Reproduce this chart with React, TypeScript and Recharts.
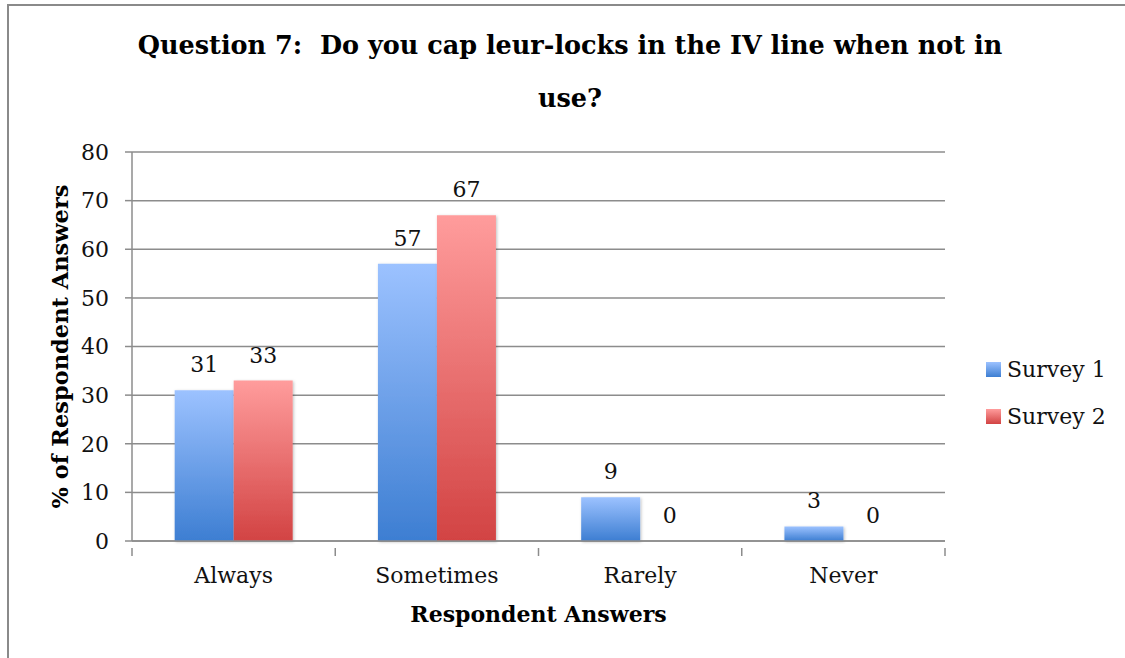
import React from "react";
import {
  BarChart,
  Bar,
  XAxis,
  YAxis,
  CartesianGrid,
  LabelList,
} from "recharts";

const categories = ["Always", "Sometimes", "Rarely", "Never"];
const survey1 = [31, 57, 9, 3];
const survey2 = [33, 67, 0, 0];
const seriesNames = ["Survey 1", "Survey 2"];
const yTicks = [0, 10, 20, 30, 40, 50, 60, 70, 80];
const titleLines = [
  "Question 7:  Do you cap leur-locks in the IV line when not in",
  "use?",
];

const data = categories.map((name, i) => ({
  name,
  s1: survey1[i],
  s2: survey2[i],
}));

const FONT = "'DejaVu Serif', serif";
const GRID = "#8c8c8c";
const W = 1125;
const H = 658;
const margin = { top: 152, right: 180, bottom: 0, left: 0 };
const yAxisWidth = 132;
const plotWidth = W - margin.left - margin.right - yAxisWidth;
const halfBand = plotWidth / categories.length / 2;

function CategoryTick(props: any) {
  const { x, y, payload, index } = props;
  const half = payload?.offset || halfBand;
  return (
    <g>
      <line x1={x - half} x2={x - half} y1={y - 1} y2={y + 7} stroke={GRID} strokeWidth={1.5} />
      {index === categories.length - 1 && (
        <line x1={x + half} x2={x + half} y1={y - 1} y2={y + 7} stroke={GRID} strokeWidth={1.5} />
      )}
      <text x={x} y={y + 34} textAnchor="middle" fontFamily={FONT} fontSize={22} fill="#111">
        {payload.value}
      </text>
    </g>
  );
}

// value labels drawn by hand so that zero-height bars still get their "0"
function ValueLabel(props: any) {
  const { x, y, width, value } = props;
  if (value == null) return null;
  return (
    <text
      x={Number(x) + Number(width) / 2}
      y={Number(y) - 18}
      textAnchor="middle"
      fontFamily={FONT}
      fontSize={22}
      fill="#111"
    >
      {value}
    </text>
  );
}

function LegendBox() {
  const fills = [
    "linear-gradient(#9cc2ff, #3d7ed2)",
    "linear-gradient(#ff9c9c, #d24343)",
  ];
  return (
    <div style={{ fontFamily: FONT, fontSize: 22, color: "#111" }}>
      {seriesNames.map((n, i) => (
        <div key={n} style={{ display: "flex", alignItems: "center", height: 47 }}>
          <span
            style={{
              display: "inline-block",
              width: 15,
              height: 15,
              background: fills[i],
              marginRight: 6,
            }}
          />
          <span>{n}</span>
        </div>
      ))}
    </div>
  );
}

export default function App() {
  return (
    <div
      style={{
        position: "fixed",
        left: 0,
        top: 0,
        width: W,
        height: H,
        overflow: "hidden",
        background: "#fff",
        fontFamily: FONT,
      }}
    >
      <div
        style={{
          position: "absolute",
          left: 7,
          top: 4,
          width: W + 20,
          height: H + 20,
          border: "2px solid #8a8a8a",
          boxSizing: "border-box",
        }}
      />
      {titleLines.map((t, i) => (
        <div
          key={i}
          style={{
            position: "absolute",
            left: 0,
            width: 1140,
            top: 25 + i * 53,
            textAlign: "center",
            fontWeight: "bold",
            fontSize: 25.5,
            lineHeight: "40px",
            whiteSpace: "pre",
            color: "#000",
          }}
        >
          {t}
        </div>
      ))}
      <div style={{ position: "absolute", left: 0, top: 0 }}>
        <BarChart
          width={W}
          height={H}
          data={data}
          margin={margin}
          barCategoryGap="21%"
          barGap={0}
        >
          <defs>
            <linearGradient id="gBlue" x1="0" y1="0" x2="0" y2="1">
              <stop offset="0%" stopColor="#9cc2ff" />
              <stop offset="100%" stopColor="#3d7ed2" />
            </linearGradient>
            <linearGradient id="gRed" x1="0" y1="0" x2="0" y2="1">
              <stop offset="0%" stopColor="#ff9c9c" />
              <stop offset="100%" stopColor="#d24343" />
            </linearGradient>
            <filter id="shadow" x="-10%" y="-10%" width="130%" height="130%">
              <feDropShadow dx="1" dy="1" stdDeviation="1.5" floodColor="#000" floodOpacity="0.25" />
            </filter>
          </defs>
          <CartesianGrid vertical={false} stroke={GRID} strokeWidth={1.5} />
          <XAxis
            dataKey="name"
            height={117}
            axisLine={{ stroke: GRID, strokeWidth: 1.5 }}
            tickLine={false}
            tick={<CategoryTick />}
            interval={0}
            label={{
              value: "Respondent Answers",
              position: "insideBottom",
              offset: 36,
              fontFamily: FONT,
              fontSize: 22,
              fontWeight: "bold",
              fill: "#000",
            }}
          />
          <YAxis
            width={yAxisWidth}
            domain={[0, 80]}
            ticks={yTicks}
            interval={0}
            axisLine={{ stroke: GRID, strokeWidth: 1.5 }}
            tickLine={{ stroke: GRID, strokeWidth: 1.5 }}
            tickSize={7}
            tickMargin={16}
            tick={{ fontFamily: FONT, fontSize: 22, fill: "#111" }}
            label={{
              value: "% of Respondent Answers",
              angle: -90,
              position: "insideLeft",
              offset: 0,
              dx: 60,
              fontFamily: FONT,
              fontSize: 22.5,
              fontWeight: "bold",
              fill: "#000",
              style: { textAnchor: "middle" },
            }}
          />
          <Bar
            dataKey="s1"
            name={seriesNames[0]}
            fill="url(#gBlue)"
            filter="url(#shadow)"
            minPointSize={(v: number) => (v === 0 ? 0.01 : 0)}
            isAnimationActive={false}
          >
            <LabelList dataKey="s1" content={<ValueLabel />} />
          </Bar>
          <Bar
            dataKey="s2"
            name={seriesNames[1]}
            fill="url(#gRed)"
            filter="url(#shadow)"
            minPointSize={(v: number) => (v === 0 ? 0.01 : 0)}
            isAnimationActive={false}
          >
            <LabelList dataKey="s2" content={<ValueLabel />} />
          </Bar>
        </BarChart>
      </div>
      <div style={{ position: "absolute", left: 986, top: 346, width: 140 }}>
        <LegendBox />
      </div>
    </div>
  );
}
